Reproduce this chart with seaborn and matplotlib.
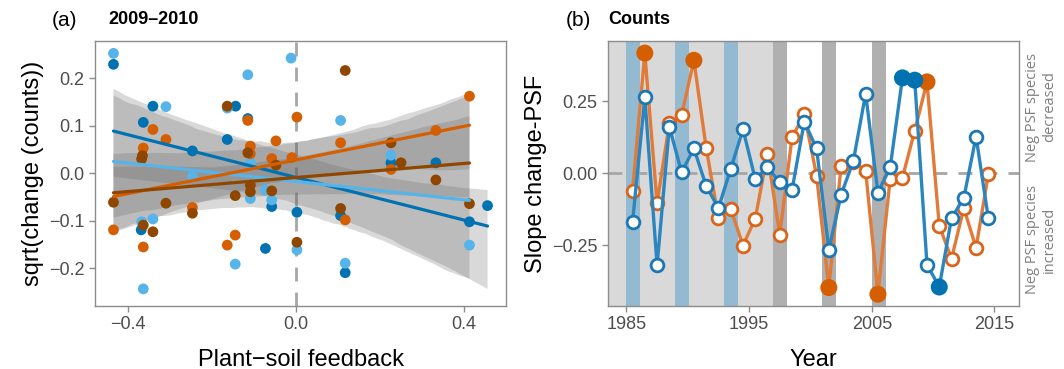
import numpy as np
import pandas as pd
import matplotlib
matplotlib.use("Agg")
import matplotlib.pyplot as plt
import seaborn as sns

sns.set_theme(style="white")
plt.rcParams["font.family"] = ["Liberation Sans Narrow", "Liberation Sans", "DejaVu Sans"]
plt.rcParams["axes.unicode_minus"] = True

# ---------------- Panel (a) data: PSF vs sqrt(change (counts)) ----------------
dblue_x = [-0.435, -0.341, -0.144, -0.115, -0.364, -0.164, -0.247, -0.058, 0.002,
           -0.369, -0.073, 0.106, 0.117, 0.226, 0.333, 0.413, 0.456]
dblue_y = [0.229, 0.141, 0.141, 0.115, 0.107, 0.071, 0.047, -0.070, -0.082,
           -0.119, -0.158, -0.089, -0.209, 0.022, 0.022, -0.102, -0.068]

lblue_x = [-0.435, -0.012, -0.115, -0.310, -0.164, -0.109, -0.247, -0.109, -0.073,
           -0.058, -0.368, -0.341, -0.145, -0.364, 0.002, 0.106, 0.226, 0.117, 0.413]
lblue_y = [0.252, 0.242, 0.207, 0.140, 0.137, 0.022, -0.007, -0.053, -0.035,
           -0.056, -0.102, -0.096, -0.191, -0.243, -0.161, 0.111, 0.038, -0.189, -0.151]

orange_x = [-0.115, -0.341, -0.310, 0.002, -0.048, -0.364, -0.109, -0.109, -0.058, -0.010,
            -0.247, -0.435, -0.364, -0.145, -0.164, 0.106, 0.333, 0.413, 0.226, 0.117]
orange_y = [0.111, 0.092, 0.071, 0.118, 0.068, 0.053, 0.057, 0.041, 0.031, 0.033,
            -0.072, -0.119, -0.155, -0.130, -0.151, 0.064, 0.090, 0.162, 0.008, -0.098]

brown_x = [-0.164, -0.366, -0.368, -0.115, -0.048, -0.435, -0.310, -0.247, -0.145, -0.109,
           -0.109, -0.058, -0.364, -0.341, 0.002, 0.117, 0.226, 0.250, 0.333, 0.106, 0.413]
brown_y = [0.141, 0.037, 0.030, 0.043, 0.017, -0.061, -0.063, -0.084, -0.047, -0.025,
           -0.039, -0.037, -0.109, -0.123, -0.145, 0.216, 0.064, 0.022, -0.014, -0.074, -0.064]

groups_a = [
    ("dblue", dblue_x, dblue_y, "#0072B2"),
    ("lblue", lblue_x, lblue_y, "#56B4E9"),
    ("orange", orange_x, orange_y, "#D55E00"),
    ("brown", brown_x, brown_y, "#8F4700"),
]

# ---------------- Panel (b) data: slope change-PSF per year ----------------
interval_start = list(range(1985, 2015))
blue_vals = [-0.170, 0.263, -0.320, 0.161, 0.003, 0.086, -0.044, -0.121, 0.014, 0.153,
             -0.020, 0.020, -0.031, -0.058, 0.179, 0.086, -0.265, -0.075, 0.043, 0.276,
             -0.067, 0.020, 0.331, 0.323, -0.317, -0.395, -0.156, -0.086, 0.127, -0.156]
blue_sig = [False] * 22 + [True, True, False, True] + [False] * 4
orange_vals = [-0.063, 0.417, -0.104, 0.173, 0.202, 0.392, 0.089, -0.156, -0.123, -0.251,
               -0.158, 0.067, -0.213, 0.124, 0.205, -0.008, -0.397, 0.025, 0.040, 0.008,
               -0.420, -0.020, -0.015, 0.147, 0.317, -0.182, -0.297, -0.121, -0.259, -0.003]
orange_sig = [False, True, False, False, False, True] + [False] * 10 + [True] + [False] * 3 + \
             [True] + [False] * 3 + [True] + [False] * 5
blue_band_years = [1985, 1989, 1993]
gray_band_years = [1997, 2001, 2005]
light_period_end = 1998

# ---------------- Figure ----------------
W, H = 1064, 369
fig = plt.figure(figsize=(W / 100, H / 100), dpi=100)
axa = fig.add_axes([95 / W, 1 - 306 / H, 411 / W, 265 / H])
axb = fig.add_axes([608 / W, 1 - 306 / H, 411 / W, 265 / H])

tick_col = "#4D4D4D"
frame_col = "#8C8C8C"
tick_fs = 13
label_fs = 17

for ax in (axa, axb):
    for sp in ax.spines.values():
        sp.set_color(frame_col)
        sp.set_linewidth(1.0)
    ax.tick_params(axis="both", which="both", direction="out", length=4, width=1,
                   color=frame_col, labelcolor=tick_col, labelsize=tick_fs,
                   bottom=True, left=True)
    ax.grid(False)

# Panel (a)
axa.axvline(0, color="#A6A6A6", lw=2, ls=(0, (5, 4)), zorder=1)
for name, xs, ys, col in groups_a:
    df = pd.DataFrame({"x": xs, "y": ys})
    n_before = len(axa.collections)
    sns.regplot(data=df, x="x", y="y", ax=axa, scatter=False, color=col,
                ci=95, n_boot=1000, seed=3, truncate=True,
                line_kws={"lw": 2.3, "zorder": 4})
    for coll in axa.collections[n_before:]:
        coll.set_facecolor("#646464")
        coll.set_alpha(0.245)
        coll.set_edgecolor("none")
        coll.set_zorder(2)
for name, xs, ys, col in groups_a:
    df = pd.DataFrame({"x": xs, "y": ys})
    sns.scatterplot(data=df, x="x", y="y", ax=axa, color=col, s=60,
                    edgecolor="none", linewidth=0, zorder=3)

axa.set_xlim(-0.479, 0.50)
axa.set_ylim(-0.279, 0.278)
axa.set_xticks([-0.4, 0.0, 0.4])
axa.set_xticklabels(["\u22120.4", "0.0", "0.4"])
axa.set_yticks([-0.2, -0.1, 0.0, 0.1, 0.2])
axa.set_yticklabels(["\u22120.2", "\u22120.1", "0.0", "0.1", "0.2"])
axa.set_xlabel("Plant\u2212soil feedback", fontsize=label_fs, color="black", labelpad=11)
axa.set_ylabel("sqrt(change (counts))", fontsize=label_fs, color="black", labelpad=4)

# Panel (b)
xmin_b, xmax_b = 1983.5, 2017.0
axb.axvspan(xmin_b, light_period_end + 0.07, color="#D9D9D9", lw=0, zorder=0)
for yb in blue_band_years:
    axb.axvspan(yb - 0.02, yb + 1.12, color="#94BAD2", lw=0, zorder=0.5)
for yb in gray_band_years:
    axb.axvspan(yb - 0.02, yb + 1.12, color="#B0B0B0", lw=0, zorder=0.5)
axb.axhline(0, color="#A6A6A6", lw=2, ls=(0, (5, 4)), zorder=1)

xb = [s + 0.5 for s in interval_start]
series_b = [
    (orange_vals, orange_sig, "#E07B39", "#D9651C", "#D55E00"),
    (blue_vals, blue_sig, "#2B86C0", "#1C77B5", "#0072B2"),
]
z = 2
for vals, sig, lcol, ecol, fcol in series_b:
    dfb = pd.DataFrame({"year": xb, "val": vals, "sig": sig})
    sns.lineplot(data=dfb, x="year", y="val", ax=axb, color=lcol, lw=2.4,
                 estimator=None, sort=False, zorder=z)
    sns.scatterplot(data=dfb[~dfb["sig"]], x="year", y="val", ax=axb, s=84,
                    facecolor="white", edgecolor=ecol, linewidth=2.0, zorder=z + 0.5)
    sns.scatterplot(data=dfb[dfb["sig"]], x="year", y="val", ax=axb, s=150,
                    color=fcol, edgecolor="none", linewidth=0, zorder=z + 0.5)
    z += 1

axb.set_xlim(xmin_b, xmax_b)
axb.set_ylim(-0.461, 0.459)
axb.set_xticks([1985, 1995, 2005, 2015])
axb.set_xticklabels(["1985", "1995", "2005", "2015"])
axb.set_yticks([-0.25, 0.0, 0.25])
axb.set_yticklabels(["\u22120.25", "0.00", "0.25"])
axb.set_xlabel("Year", fontsize=label_fs, color="black", labelpad=11)
axb.set_ylabel("Slope change-PSF", fontsize=label_fs, color="black", labelpad=4)

# Titles
fig.text(52 / W, 1 - 20 / H, "(a)", fontsize=15, va="center", ha="left", color="black")
fig.text(108 / W, 1 - 20 / H, "2009\u20132010", fontsize=13, fontweight="bold",
         va="center", ha="left", color="black")
fig.text(566 / W, 1 - 20 / H, "(b)", fontsize=15, va="center", ha="left", color="black")
fig.text(608 / W, 1 - 20 / H, "Counts", fontsize=13, fontweight="bold",
         va="center", ha="left", color="black")

# Right-side annotations
fig.text(1041 / W, 1 - 107 / H, "Neg PSF species\ndecreased", rotation=90,
         fontsize=10.5, color="#7F7F7F", ha="center", va="center", multialignment="center",
         family=["Open Sans", "DejaVu Sans"])
fig.text(1041 / W, 1 - 240 / H, "Neg PSF species\nincreased", rotation=90,
         fontsize=10.5, color="#7F7F7F", ha="center", va="center", multialignment="center",
         family=["Open Sans", "DejaVu Sans"])

fig.savefig("out.png", dpi=100)
